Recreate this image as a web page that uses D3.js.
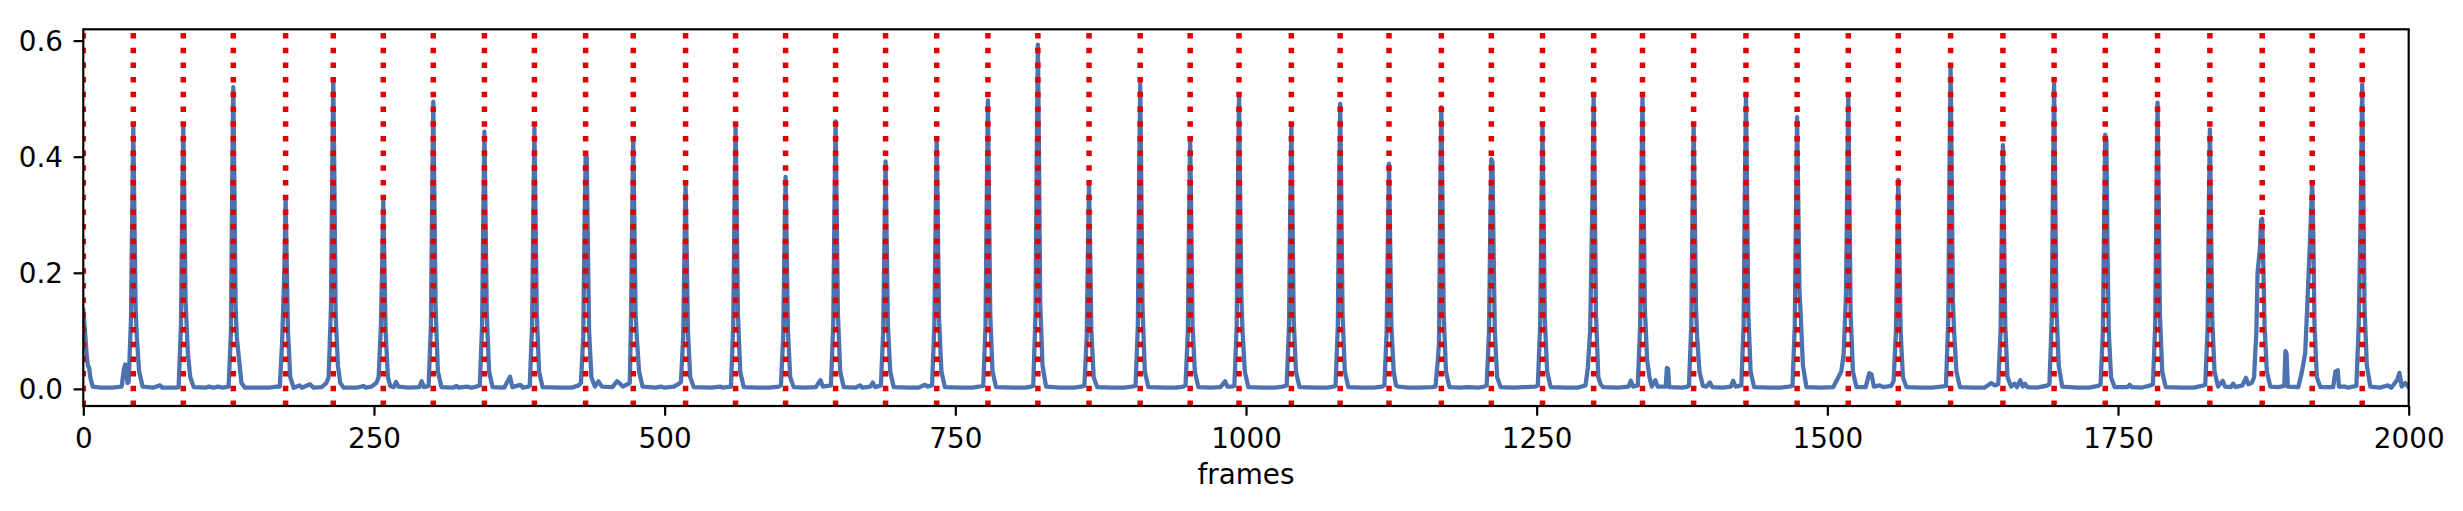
<!DOCTYPE html>
<html>
<head>
<meta charset="utf-8">
<script src="https://cdn.jsdelivr.net/npm/d3@7"></script>
<style>
  html, body { margin: 0; padding: 0; background: #ffffff; }
  svg { display: block; }
  text { font-family: "DejaVu Sans", sans-serif; }
</style>
</head>
<body>
<div id="chart"></div>
<script>
// ---------------- data ----------------
const xTicks = [0, 250, 500, 750, 1000, 1250, 1500, 1750, 2000];
const yTicks = [0.0, 0.2, 0.4, 0.6];
const xLabel = "frames";

// beat positions (frames) – red dotted lines
const beatFrames = [0, 43, 86, 129, 174, 215, 258, 301, 345, 388, 432, 473, 518, 561, 604, 647, 690, 734,
  778, 821, 865, 909, 952, 994, 1039, 1081, 1123, 1168, 1211, 1255, 1299, 1341, 1385, 1430, 1474, 1518,
  1561, 1606, 1651, 1695, 1739, 1784, 1829, 1874, 1917, 1960];

// onset strength envelope – [frame, value] vertices
const envelope = [
  [0,0.136],[1,0.11],[3,0.056],[4,0.04],[5,0.037],[6,0.02],[8,0.004],[15,0.002],[25,0.002],[33,0.004],[35,0.035],[36,0.042],[37,0.03],[38,0.01],
  [39,0.012],[41,0.12],[42,0.29],[43,0.45],[44,0.29],[45,0.14],[46,0.09],[48,0.03],[51,0.004],
  [60,0.002],[66,0.006],[68,0.002],[80,0.002],
  [82,0.003],[84,0.11],[85,0.3],[86,0.455],[87,0.3],[88,0.15],[90,0.06],[92,0.02],[95,0.003],
  [105,0.002],[108,0.004],[112,0.002],[116,0.004],[120,0.002],
  [125,0.004],[127,0.1],[128,0.34],[129,0.52],[130,0.34],[131,0.14],[132,0.09],[134,0.05],[136,0.01],[139,0.002],
  [150,0.002],[160,0.002],[166,0.004],
  [169,0.004],[171,0.08],[173,0.21],[174,0.329],[175,0.21],[176,0.1],[178,0.02],[181,0.002],
  [186,0.006],[188,0.002],[195,0.008],[198,0.002],[205,0.003],[209,0.01],
  [211,0.02],[213,0.14],[214,0.35],[215,0.532],[216,0.35],[217,0.13],[219,0.04],[221,0.01],[224,0.002],
  [235,0.002],[241,0.005],[243,0.002],[248,0.004],[252,0.01],
  [254,0.02],[256,0.11],[257,0.21],[258,0.323],[259,0.21],[260,0.1],[262,0.02],[264,0.005],[267,0.003],[269,0.012],[271,0.004],
  [280,0.002],[289,0.003],[291,0.013],[293,0.003],
  [297,0.005],[299,0.11],[300,0.32],[301,0.495],[302,0.32],[303,0.14],[305,0.03],[308,0.003],
  [318,0.002],[321,0.005],[323,0.002],[330,0.004],[334,0.002],[338,0.004],
  [341,0.006],[343,0.11],[344,0.29],[345,0.443],[346,0.29],[347,0.13],[349,0.03],[352,0.003],
  [362,0.002],[367,0.021],[369,0.003],[376,0.007],[378,0.002],[383,0.004],
  [384,0.006],[386,0.11],[387,0.29],[388,0.449],[389,0.29],[390,0.13],[392,0.03],[395,0.003],
  [410,0.002],[420,0.002],[426,0.006],
  [428,0.01],[430,0.09],[431,0.26],[432,0.399],[433,0.4],[434,0.24],[435,0.1],[437,0.02],[440,0.004],[443,0.013],[446,0.004],[455,0.003],[459,0.013],[461,0.01],[464,0.004],[468,0.008],
  [470,0.01],[471,0.11],[472,0.28],[473,0.432],[474,0.28],[475,0.13],[476,0.09],[478,0.03],[481,0.004],
  [492,0.002],[497,0.004],[500,0.002],[508,0.004],[513,0.01],
  [514,0.012],[516,0.09],[517,0.23],[518,0.355],[519,0.23],[520,0.1],[522,0.02],[525,0.003],
  [540,0.002],[548,0.004],[550,0.002],
  [557,0.004],[559,0.11],[560,0.3],[561,0.455],[562,0.3],[563,0.13],[565,0.03],[568,0.003],
  [580,0.002],[590,0.002],[598,0.004],
  [600,0.006],[602,0.09],[603,0.24],[604,0.365],[605,0.24],[606,0.1],[608,0.02],[611,0.003],
  [620,0.002],[630,0.003],[634,0.015],[636,0.004],
  [643,0.006],[645,0.11],[646,0.3],[647,0.461],[648,0.3],[649,0.13],[651,0.03],[654,0.003],
  [664,0.002],[668,0.006],[670,0.002],[677,0.004],[679,0.011],[681,0.003],
  [686,0.006],[688,0.1],[689,0.25],[690,0.392],[691,0.25],[692,0.11],[694,0.03],[697,0.003],
  [710,0.002],[718,0.002],[724,0.007],[726,0.004],
  [730,0.006],[732,0.11],[733,0.28],[734,0.432],[735,0.28],[736,0.12],[738,0.03],[741,0.003],
  [755,0.002],[765,0.002],[770,0.004],
  [774,0.005],[776,0.11],[777,0.32],[778,0.497],[779,0.32],[780,0.13],[782,0.03],[785,0.003],
  [800,0.002],[810,0.002],[815,0.004],
  [817,0.005],[819,0.13],[820,0.39],[821,0.593],[822,0.39],[823,0.15],[825,0.04],[828,0.004],
  [840,0.002],[852,0.002],[858,0.004],
  [861,0.005],[863,0.09],[864,0.23],[865,0.353],[866,0.23],[867,0.1],[869,0.02],[872,0.003],
  [885,0.002],[895,0.002],[902,0.004],
  [905,0.005],[907,0.11],[908,0.34],[909,0.525],[910,0.34],[911,0.14],[913,0.03],[916,0.003],
  [930,0.002],[940,0.002],[946,0.004],
  [948,0.006],[950,0.1],[951,0.28],[952,0.429],[953,0.28],[954,0.11],[956,0.03],[959,0.003],
  [970,0.002],[978,0.003],[982,0.013],[984,0.004],[988,0.004],
  [990,0.005],[992,0.11],[993,0.33],[994,0.507],[995,0.33],[996,0.16],[997,0.1],[999,0.03],[1002,0.003],
  [1015,0.002],[1025,0.002],[1032,0.004],
  [1035,0.006],[1037,0.11],[1038,0.3],[1039,0.455],[1040,0.3],[1041,0.12],[1043,0.03],[1046,0.003],
  [1060,0.002],[1070,0.002],[1075,0.004],
  [1077,0.005],[1079,0.11],[1080,0.32],[1081,0.491],[1082,0.32],[1083,0.13],[1085,0.03],[1088,0.003],
  [1100,0.002],[1110,0.002],[1117,0.004],
  [1119,0.006],[1121,0.1],[1122,0.25],[1123,0.388],[1124,0.25],[1125,0.11],[1127,0.03],[1129,0.006],[1131,0.004],[1140,0.002],[1150,0.002],[1160,0.003],
  [1163,0.004],[1165,0.05],[1166,0.08],[1167,0.32],[1168,0.485],[1169,0.32],[1170,0.13],[1172,0.03],[1175,0.003],
  [1185,0.002],[1190,0.003],[1200,0.002],[1205,0.004],
  [1207,0.006],[1209,0.1],[1210,0.26],[1211,0.396],[1212,0.39],[1213,0.23],[1214,0.1],[1216,0.02],[1219,0.003],
  [1230,0.002],[1240,0.003],[1249,0.004],
  [1251,0.006],[1253,0.11],[1254,0.29],[1255,0.452],[1256,0.29],[1257,0.12],[1259,0.03],[1262,0.003],
  [1275,0.002],[1285,0.002],[1292,0.006],
  [1294,0.036],[1296,0.1],[1298,0.33],[1299,0.504],[1300,0.33],[1301,0.13],[1303,0.02],[1305,0.008],[1307,0.003],
  [1320,0.002],[1329,0.004],[1331,0.014],[1333,0.004],
  [1337,0.006],[1339,0.11],[1340,0.33],[1341,0.504],[1342,0.33],[1343,0.14],[1345,0.05],[1347,0.02],[1349,0.004],[1352,0.015],[1354,0.004],[1361,0.004],[1362,0.036],[1363,0.035],[1364,0.003],[1375,0.002],[1380,0.004],
  [1381,0.006],[1383,0.11],[1384,0.3],[1385,0.455],[1386,0.3],[1387,0.14],[1388,0.09],[1390,0.03],[1393,0.005],[1396,0.004],[1399,0.011],[1401,0.003],[1410,0.002],[1417,0.004],[1419,0.014],[1421,0.004],
  [1426,0.006],[1428,0.11],[1429,0.33],[1430,0.504],[1431,0.33],[1432,0.13],[1434,0.03],[1437,0.003],
  [1450,0.002],[1460,0.002],[1467,0.004],
  [1470,0.005],[1472,0.11],[1473,0.3],[1474,0.468],[1475,0.32],[1476,0.17],[1477,0.13],[1479,0.04],[1482,0.003],
  [1495,0.002],[1505,0.003],[1510,0.022],
  [1512,0.03],[1514,0.06],[1516,0.16],[1517,0.33],[1518,0.501],[1519,0.33],[1520,0.13],[1522,0.03],[1525,0.003],
  [1533,0.003],[1536,0.027],[1538,0.025],[1540,0.004],[1545,0.006],[1548,0.003],
  [1555,0.005],[1557,0.014],[1559,0.1],[1560,0.23],[1561,0.36],[1562,0.23],[1563,0.1],[1565,0.02],[1568,0.003],
  [1580,0.002],[1590,0.002],[1598,0.004],
  [1602,0.005],[1604,0.12],[1605,0.36],[1606,0.555],[1607,0.36],[1608,0.15],[1609,0.1],[1611,0.03],[1614,0.003],
  [1625,0.002],[1635,0.002],[1641,0.01],[1644,0.006],
  [1647,0.008],[1649,0.1],[1650,0.27],[1651,0.42],[1652,0.27],[1653,0.11],[1655,0.02],[1658,0.004],[1661,0.009],[1663,0.003],[1666,0.015],[1668,0.004],[1670,0.009],[1672,0.003],[1680,0.002],[1688,0.005],
  [1691,0.008],[1693,0.12],[1694,0.34],[1695,0.525],[1696,0.34],[1697,0.14],[1699,0.04],[1702,0.004],
  [1715,0.002],[1725,0.002],[1733,0.005],
  [1735,0.008],[1737,0.1],[1738,0.28],[1739,0.438],[1740,0.43],[1741,0.23],[1742,0.1],[1744,0.02],[1747,0.003],
  [1758,0.003],[1760,0.007],[1762,0.003],[1770,0.002],[1778,0.006],
  [1780,0.008],[1782,0.11],[1783,0.32],[1784,0.493],[1785,0.32],[1786,0.13],[1788,0.03],[1791,0.003],
  [1805,0.002],[1815,0.002],[1822,0.005],
  [1825,0.007],[1827,0.1],[1828,0.29],[1829,0.447],[1830,0.29],[1831,0.12],[1833,0.03],[1836,0.004],[1840,0.014],[1842,0.004],[1847,0.003],[1849,0.009],[1851,0.003],[1857,0.006],[1860,0.019],[1862,0.008],[1865,0.01],
  [1867,0.02],[1869,0.1],[1870,0.2],[1872,0.24],[1873,0.29],[1874,0.293],[1875,0.21],[1876,0.11],[1878,0.03],[1881,0.004],
  [1888,0.003],[1893,0.005],[1894,0.065],[1895,0.06],[1896,0.004],[1905,0.003],
  [1908,0.028],[1911,0.062],[1913,0.154],[1915,0.25],[1917,0.355],[1918,0.26],[1919,0.11],[1921,0.02],[1924,0.003],
  [1935,0.003],[1937,0.03],[1939,0.032],[1940,0.004],[1945,0.004],[1948,0.002],
  [1955,0.005],[1957,0.11],[1959,0.34],[1960,0.524],[1961,0.34],[1962,0.14],[1964,0.04],[1967,0.004],
  [1975,0.002],[1982,0.006],[1985,0.002],[1990,0.015],[1992,0.0275],[1994,0.004],[1997,0.01],[2000,0.003]
];

// ---------------- layout ----------------
const W = 2463, H = 511;
const plot = { left: 83.3, right: 2408.7, top: 29.3, bottom: 406 };
const fontPx = 27.8;
const tickLen = 9.7, tickPad = 9.7;

const svg = d3.select("#chart").append("svg")
  .attr("width", W).attr("height", H)
  .attr("viewBox", `0 0 ${W} ${H}`);

const x = d3.scaleLinear().domain([0, 2000]).range([plot.left, plot.right]);
const y = d3.scaleLinear().domain([-0.0295, 0.6195]).range([plot.bottom, plot.top]);

svg.append("defs").append("clipPath").attr("id", "clip")
  .append("rect")
  .attr("x", plot.left).attr("y", plot.top)
  .attr("width", plot.right - plot.left).attr("height", plot.bottom - plot.top);

const g = svg.append("g").attr("clip-path", "url(#clip)");

// envelope line
const line = d3.line().x(d => x(d[0])).y(d => y(d[1]));
g.append("path")
  .datum(envelope)
  .attr("d", line)
  .attr("fill", "none")
  .attr("stroke", "#4c72b0")
  .attr("stroke-width", 4.3)
  .attr("stroke-linejoin", "round")
  .attr("stroke-linecap", "square");

// beat lines (drawn from bottom to top so the dot pattern starts at the bottom)
g.selectAll("line.beat")
  .data(beatFrames)
  .join("line")
  .attr("class", "beat")
  .attr("x1", d => x(d)).attr("x2", d => x(d))
  .attr("y1", plot.bottom).attr("y2", plot.top)
  .attr("stroke", "#e00000")
  .attr("stroke-width", 5.5)
  .attr("stroke-dasharray", "5.5,9.2");

// axes
const xAxis = d3.axisBottom(x).tickValues(xTicks).tickFormat(d3.format("d"))
  .tickSizeInner(tickLen).tickSizeOuter(0).tickPadding(tickPad);
const yAxis = d3.axisLeft(y).tickValues(yTicks).tickFormat(d3.format(".1f"))
  .tickSizeInner(tickLen).tickSizeOuter(0).tickPadding(tickPad);

const gx = svg.append("g").attr("transform", `translate(0,${plot.bottom})`).call(xAxis);
const gy = svg.append("g").attr("transform", `translate(${plot.left},0)`).call(yAxis);

[gx, gy].forEach(a => {
  a.select(".domain").remove();
  a.selectAll(".tick line").attr("stroke", "#000").attr("stroke-width", 2.2);
  a.selectAll(".tick text")
    .attr("fill", "#000")
    .style("font-family", "'DejaVu Sans', sans-serif")
    .style("font-size", fontPx + "px");
});
gx.selectAll(".tick text").attr("dy", null).attr("y", 42);
gy.selectAll(".tick text").attr("dy", "0.36em").attr("x", -(tickLen + tickPad + 1));

// frame (spines)
svg.append("rect")
  .attr("x", plot.left).attr("y", plot.top)
  .attr("width", plot.right - plot.left).attr("height", plot.bottom - plot.top)
  .attr("fill", "none").attr("stroke", "#000").attr("stroke-width", 2.2);

// x label
svg.append("text")
  .attr("x", (plot.left + plot.right) / 2)
  .attr("y", 484.3)
  .attr("text-anchor", "middle")
  .style("font-family", "'DejaVu Sans', sans-serif")
  .style("font-size", fontPx + "px")
  .attr("fill", "#000")
  .text(xLabel);
</script>
</body>
</html>
